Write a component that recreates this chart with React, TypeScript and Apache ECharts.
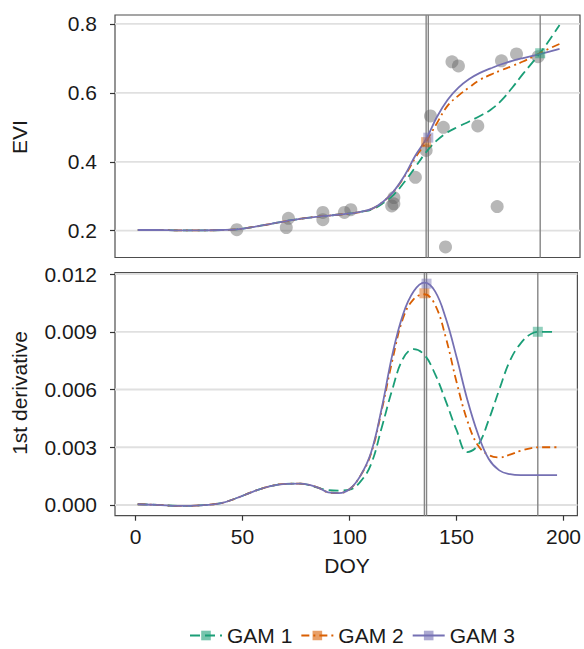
import React, { useEffect, useRef } from "react";
import * as echarts from "echarts";

const seriesNames = ["GAM 1", "GAM 2", "GAM 3"];
const seriesColors = ["#1b9e77", "#d95f02", "#7570b3"];
const markerColors = ["rgba(27,158,119,0.6)", "rgba(217,95,2,0.6)", "rgba(117,112,179,0.6)"];

const xTicks = [0, 50, 100, 150, 200];
const eviTicks = [0.2, 0.4, 0.6, 0.8];
const derivTicks = [0, 0.003, 0.006, 0.009, 0.012];

const curveDoy = [1, 10, 20, 30, 40, 47, 55, 63, 70, 77, 85, 90, 95, 100, 105, 110, 115, 120, 125, 130, 135, 140, 145, 150, 155, 160, 165, 170, 175, 180, 185, 190, 197];

const eviGam1 = [0.202, 0.202, 0.201, 0.201, 0.202, 0.204, 0.211, 0.220, 0.228, 0.235, 0.241, 0.244, 0.247, 0.250, 0.255, 0.262, 0.280, 0.305, 0.342, 0.385, 0.428, 0.462, 0.486, 0.502, 0.517, 0.533, 0.551, 0.578, 0.615, 0.655, 0.693, 0.733, 0.797];
const eviGam2 = [0.202, 0.202, 0.201, 0.201, 0.202, 0.204, 0.211, 0.220, 0.228, 0.235, 0.241, 0.244, 0.247, 0.250, 0.255, 0.264, 0.284, 0.315, 0.358, 0.412, 0.458, 0.512, 0.563, 0.592, 0.616, 0.638, 0.653, 0.666, 0.678, 0.691, 0.706, 0.722, 0.742];
const eviGam3 = [0.202, 0.202, 0.201, 0.201, 0.202, 0.204, 0.211, 0.220, 0.228, 0.235, 0.241, 0.244, 0.247, 0.250, 0.255, 0.264, 0.284, 0.315, 0.360, 0.418, 0.466, 0.530, 0.580, 0.615, 0.640, 0.658, 0.671, 0.683, 0.693, 0.701, 0.708, 0.716, 0.728];

const derivGam1 = [0.00004, 0.00001, -0.00005, -0.00002, 0.0001, 0.00035, 0.0007, 0.00098, 0.0011, 0.00111, 0.0009, 0.00078, 0.00075, 0.0008, 0.0012, 0.0021, 0.004, 0.006, 0.0076, 0.0081, 0.0078, 0.0068, 0.0054, 0.0039, 0.00275, 0.0031, 0.0044, 0.006, 0.0075, 0.0084, 0.0089, 0.009, 0.009];
const derivGam2 = [0.00004, 0.00001, -0.00005, -0.00002, 0.0001, 0.00035, 0.0007, 0.00098, 0.0011, 0.00111, 0.00092, 0.00066, 0.00062, 0.00082, 0.0015, 0.00265, 0.0049, 0.0075, 0.0097, 0.0107, 0.01095, 0.0104, 0.0087, 0.0064, 0.0044, 0.0031, 0.0026, 0.00247, 0.00262, 0.00282, 0.00296, 0.003, 0.003];
const derivGam3 = [0.00004, 0.00001, -0.00005, -0.00002, 0.0001, 0.00035, 0.0007, 0.00098, 0.0011, 0.00111, 0.00092, 0.00066, 0.00062, 0.00082, 0.0015, 0.0027, 0.005, 0.0078, 0.0099, 0.0111, 0.01155, 0.0111, 0.0097, 0.0077, 0.0055, 0.0037, 0.0024, 0.0018, 0.0016, 0.00155, 0.00155, 0.00155, 0.00155];

const obsDoy = [47, 71, 70, 87, 87, 97, 100, 119, 120, 120, 130, 135, 137, 143, 144, 147, 150, 159, 168, 170, 177, 187];
const obsEvi = [0.203, 0.236, 0.209, 0.253, 0.232, 0.253, 0.261, 0.272, 0.278, 0.296, 0.355, 0.433, 0.533, 0.5, 0.153, 0.69, 0.678, 0.504, 0.27, 0.693, 0.713, 0.705];

const peakDoy = [188, 135, 136];
const peakEvi = [0.715, 0.457, 0.47];
const peakDeriv = [0.009, 0.011, 0.0115];

const vLineDoy = [135, 136, 188];

const FONT = '"Liberation Sans", Arial, Helvetica, sans-serif';
const FS = 21;
const lineTypes: any[] = [[10, 5], [8, 4, 2, 4], "solid"];

export default function App() {
  const ref = useRef<HTMLDivElement>(null);
  useEffect(() => {
    if (!ref.current) return;
    const chart = echarts.init(ref.current, null, { renderer: "svg" });
    const xMin = -9.6, xMax = 206.5;
    const yRanges = [
      [0.1222, 0.826],
      [-0.000556, 0.01207],
    ];
    const grids = [
      { left: 115, top: 15, width: 465, height: 242.5, show: true, borderColor: "#4d4d4d", borderWidth: 1.2 },
      { left: 115, top: 272.7, width: 465, height: 243, show: true, borderColor: "#4d4d4d", borderWidth: 1.2 },
    ];
    const xAxisBase = (gi: number, labels: boolean) => ({
      type: "value",
      gridIndex: gi,
      position: "bottom",
      min: xMin,
      max: xMax,
      axisLine: { show: false, onZero: false },
      splitLine: { show: false },
      axisTick: { show: labels, length: 5, lineStyle: { color: "#333", width: 1.2 }, customValues: xTicks },
      axisLabel: { show: labels, customValues: xTicks, fontSize: FS, fontFamily: FONT, color: "#1a1a1a", margin: 10 },
    });
    const yAxisBase = (gi: number, ticks: number[], digits: number) => ({
      type: "value",
      gridIndex: gi,
      position: "left",
      min: yRanges[gi][0],
      max: yRanges[gi][1],
      axisLine: { show: false, onZero: false },
      splitLine: { show: false },
      axisTick: { show: true, length: 5, lineStyle: { color: "#333", width: 1.2 }, customValues: ticks },
      axisLabel: {
        customValues: ticks,
        fontSize: FS,
        fontFamily: FONT,
        color: "#1a1a1a",
        margin: 18,
        formatter: (v: number) => v.toFixed(digits),
      },
    });

    const series: any[] = [];
    const panels = [
      { gi: 0, ticks: eviTicks, curves: [eviGam1, eviGam2, eviGam3], peaks: peakEvi },
      { gi: 1, ticks: derivTicks, curves: [derivGam1, derivGam2, derivGam3], peaks: peakDeriv },
    ];
    panels.forEach((p) => {
      p.ticks.forEach((t, j) => {
        series.push({
          type: "line",
          name: "grid" + p.gi + "-" + j,
          xAxisIndex: p.gi,
          yAxisIndex: p.gi,
          z: 1,
          silent: true,
          showSymbol: false,
          symbol: "none",
          lineStyle: { color: "#e0e0e0", width: 1.8 },
          data: [[xMin, t], [xMax, t]],
        });
      });
      vLineDoy.forEach((v, j) => {
        series.push({
          type: "line",
          name: "vline" + p.gi + "-" + j,
          xAxisIndex: p.gi,
          yAxisIndex: p.gi,
          z: 2,
          silent: true,
          showSymbol: false,
          symbol: "none",
          lineStyle: { color: "#858585", width: 1.4 },
          data: [[v, yRanges[p.gi][0]], [v, yRanges[p.gi][1]]],
        });
      });
      if (p.gi === 0) {
        series.push({
          type: "scatter",
          name: "obs",
          xAxisIndex: 0,
          yAxisIndex: 0,
          z: 3,
          symbol: "circle",
          symbolSize: 13,
          itemStyle: { color: "rgba(100,100,100,0.58)" },
          data: obsDoy.map((d, i) => [d, obsEvi[i]]),
        });
      }
      p.curves.forEach((vals, k) => {
        series.push({
          type: "line",
          name: seriesNames[k],
          xAxisIndex: p.gi,
          yAxisIndex: p.gi,
          z: 4,
          smooth: 0.4,
          showSymbol: false,
          symbol: "rect",
          symbolSize: 9,
          itemStyle: { color: markerColors[k] },
          lineStyle: { color: seriesColors[k], width: 1.8, type: lineTypes[k] },
          data: curveDoy.map((d, i) => [d, vals[i]]),
        });
      });
      p.peaks.forEach((v, k) => {
        series.push({
          type: "scatter",
          name: seriesNames[k] + " peak",
          xAxisIndex: p.gi,
          yAxisIndex: p.gi,
          z: 5,
          symbol: "rect",
          symbolSize: 10,
          itemStyle: { color: markerColors[k] },
          data: [[peakDoy[k], v]],
        });
      });
    });

    chart.setOption({
      animation: false,
      backgroundColor: "#fff",
      grid: grids,
      xAxis: [xAxisBase(0, false), xAxisBase(1, true)],
      yAxis: [yAxisBase(0, eviTicks, 1), yAxisBase(1, derivTicks, 3)],
      legend: {
        data: seriesNames,
        left: 184,
        top: 620,
        itemWidth: 32,
        itemHeight: 12,
        itemGap: 8,
        textStyle: { fontSize: FS, fontFamily: FONT, color: "#1a1a1a" },
      },
      graphic: [
        { type: "text", x: 19, y: 137, rotation: Math.PI / 2, style: { text: "EVI", fontSize: FS, fontFamily: FONT, fill: "#1a1a1a", align: "center", verticalAlign: "middle" } },
        { type: "text", x: 19, y: 393, rotation: Math.PI / 2, style: { text: "1st derivative", fontSize: FS, fontFamily: FONT, fill: "#1a1a1a", align: "center", verticalAlign: "middle" } },
        { type: "text", x: 347, y: 565, style: { text: "DOY", fontSize: FS, fontFamily: FONT, fill: "#1a1a1a", align: "center", verticalAlign: "middle" } },
      ],
      series,
    });
    return () => chart.dispose();
  }, []);
  return <div ref={ref} style={{ position: "fixed", left: 0, top: 0, width: 584, height: 649 }} />;
}
